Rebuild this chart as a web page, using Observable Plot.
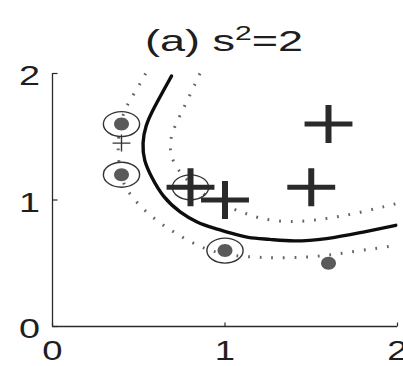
<!DOCTYPE html>
<html>
<head>
<meta charset="utf-8">
<script src="https://cdn.jsdelivr.net/npm/d3@7"></script>
<script src="https://cdn.jsdelivr.net/npm/@observablehq/plot@0.6"></script>
<style>
  html, body { margin: 0; padding: 0; background: #fff; }
  #wrap { position: relative; width: 403px; height: 366px; overflow: hidden; }
  #title {
    position: absolute; left: 224px; top: 26px; z-index: 2;
    font-family: "Liberation Sans", Arial, sans-serif; font-size: 30px; line-height: 30px;
    color: #1e1e1e; white-space: nowrap;
    transform: translateX(-50%) scaleX(1.5); transform-origin: center;
  }
  #title sup { font-size: 20px; vertical-align: baseline; position: relative; top: -11px; }
</style>
</head>
<body>
<div id="wrap"><div id="title">(a) s<sup>2</sup>=2</div></div>
<script>
// Training points: class +1 (crosses) and class -1 (grey dots)
const posX = [0.8, 1.0, 1.5, 1.6];
const posY = [1.1, 1.0, 1.1, 1.6];
const negX = [0.4, 0.4, 1.0, 1.6];
const negY = [1.6, 1.2, 0.6, 0.5];
// Support vectors (ringed)
const svX = [0.4, 0.4, 0.8, 1.0];
const svY = [1.6, 1.2, 1.1, 0.6];
// Query point
const testX = [0.4];
const testY = [1.45];

// Decision boundary f(x)=0
const bndX = [0.69, 0.58, 0.54, 0.52, 0.53, 0.57, 0.64, 0.74, 0.84, 0.93, 1.03, 1.13, 1.26, 1.39, 1.59, 1.78, 1.99];
const bndY = [1.98, 1.71, 1.59, 1.45, 1.31, 1.19, 1.02, 0.90, 0.82, 0.78, 0.74, 0.70, 0.69, 0.67, 0.69, 0.74, 0.80];
// Margin f(x)=+1
const mPlusX = [0.855, 0.80, 0.74, 0.69, 0.68, 0.69, 0.73, 0.80, 0.88, 0.98, 1.09, 1.20, 1.38, 1.59, 1.78, 1.99];
const mPlusY = [2.00, 1.84, 1.67, 1.53, 1.42, 1.33, 1.23, 1.13, 1.04, 0.96, 0.91, 0.85, 0.82, 0.85, 0.90, 0.97];
// Margin f(x)=-1
const mMinusX = [0.54, 0.50, 0.44, 0.405, 0.38, 0.38, 0.405, 0.45, 0.53, 0.62, 0.71, 0.81, 0.91, 1.03, 1.20, 1.39, 1.59, 1.78, 1.99];
const mMinusY = [2.00, 1.90, 1.77, 1.67, 1.51, 1.31, 1.14, 1.04, 0.92, 0.82, 0.74, 0.66, 0.60, 0.56, 0.545, 0.54, 0.56, 0.60, 0.64];

const xTicks = [0, 1, 2];
const yTicks = [0, 1, 2];
const tickLabels = ["0", "1", "2"];

const pts = (xs, ys) => xs.map((x, i) => ({x, y: ys[i]}));

// Custom marker shapes (the figure is wider than tall, so markers are elliptical)
const K = 0.5523;
function ellipse(kx, ky) {
  return {draw(ctx, size) {
    const r = Math.sqrt(size / Math.PI), a = r * kx, b = r * ky;
    ctx.moveTo(a, 0);
    ctx.bezierCurveTo(a, b * K, a * K, b, 0, b);
    ctx.bezierCurveTo(-a * K, b, -a, b * K, -a, 0);
    ctx.bezierCurveTo(-a, -b * K, -a * K, -b, 0, -b);
    ctx.bezierCurveTo(a * K, -b, a, -b * K, a, 0);
    ctx.closePath();
  }};
}
function cross(kx, barH, barV) {
  return {draw(ctx, size) {
    const r = Math.sqrt(size / Math.PI), a = r * kx;
    ctx.rect(-a, -barH / 2, 2 * a, barH);
    ctx.rect(-barV / 2, -r, barV, 2 * r);
  }};
}
const tickRight = {draw(ctx) { ctx.moveTo(0, 0); ctx.lineTo(5, 0); }};
const tickUp = {draw(ctx) { ctx.moveTo(0, 0); ctx.lineTo(0, -4); }};

const ink = "#2b2b2b";
const font = "Liberation Sans, Arial, sans-serif";
const dotted = {x: "x", y: "y", curve: "basis", stroke: "#666", strokeWidth: 3,
  strokeDasharray: "1.8,9.8", strokeLinecap: "butt"};

const chart = Plot.plot({
  width: 403,
  height: 366,
  marginLeft: 52,
  marginRight: 6,
  marginTop: 73,
  marginBottom: 40,
  style: {fontFamily: font, background: "#fff", overflow: "visible"},
  x: {domain: [0, 2]},
  y: {domain: [0, 2]},
  marks: [
    Plot.ruleX([0], {stroke: ink, strokeWidth: 1.3}),
    Plot.ruleY([0], {stroke: ink, strokeWidth: 1.3}),
    Plot.dot(yTicks, {x: 0, y: d => d, symbol: tickRight, r: 3, stroke: ink, strokeWidth: 1.2, fill: "none"}),
    Plot.dot(xTicks, {x: d => d, y: 0, symbol: tickUp, r: 3, stroke: ink, strokeWidth: 1.2, fill: "none"}),
    Plot.axisX({ticks: xTicks, tickFormat: (d, i) => tickLabels[i], tickSize: 0, tickPadding: 14,
      label: null, fontSize: 27, fill: "#1e1e1e"}),
    Plot.axisY({ticks: yTicks, tickFormat: (d, i) => tickLabels[i], tickSize: 0, tickPadding: 23,
      label: null, textAnchor: "middle", dy: 3, fontSize: 28, fill: "#1e1e1e"}),
    // margins
    Plot.line(pts(mPlusX, mPlusY), dotted),
    Plot.line(pts(mMinusX, mMinusY), dotted),
    // decision boundary
    Plot.line(pts(bndX, bndY), {x: "x", y: "y", curve: "basis", stroke: "#0d0d0d",
      strokeWidth: 3.4, strokeLinecap: "round"}),
    // support-vector rings
    Plot.dot(pts(svX, svY), {x: "x", y: "y", r: 12.5, symbol: ellipse(1.45, 1), fill: "none",
      stroke: "#333", strokeWidth: 1.4}),
    // class -1
    Plot.dot(pts(negX, negY), {x: "x", y: "y", r: 6.5, symbol: ellipse(1.15, 1), fill: "#5a5a5a", stroke: "none"}),
    // class +1
    Plot.dot(pts(posX, posY), {x: "x", y: "y", r: 19, symbol: cross(1.26, 5, 6), fill: "#2a2a2a", stroke: "none"}),
    // query point
    Plot.dot(pts(testX, testY), {x: "x", y: "y", r: 8.5, symbol: cross(1.05, 1.4, 1.4), fill: "#333", stroke: "none"})
  ]
});

// widen tick labels to the figure's horizontal stretch
chart.querySelectorAll('g[aria-label$="tick label"] text').forEach(t => {
  const tr = t.getAttribute("transform") || "";
  const x = +t.getAttribute("x") || 0;
  t.setAttribute("transform", `${tr} translate(${x},0) scale(1.35,1) translate(${-x},0)`);
});

document.getElementById("wrap").prepend(chart);
</script>
</body>
</html>
